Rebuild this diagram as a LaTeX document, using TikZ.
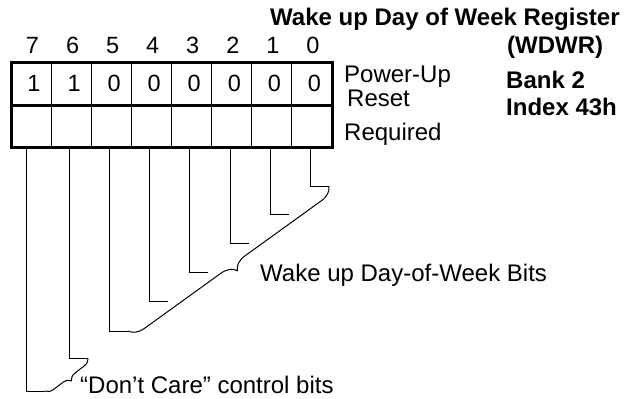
\documentclass[tikz,border=0pt]{standalone}
\usepackage{fontspec}
\setmainfont{Liberation Sans}
\usetikzlibrary{decorations.pathreplacing}
\begin{document}
\begin{tikzpicture}[x=1pt,y=-1pt,
  txt/.style={inner sep=0pt,anchor=base west,font=\fontsize{24}{28}\selectfont},
  btxt/.style={inner sep=0pt,anchor=base west,font=\fontsize{24}{28}\selectfont\bfseries},
  dig/.style={inner sep=0pt,anchor=base,font=\fontsize{23.5}{27}\selectfont},
  thickbox/.style={line width=3pt},
  thin/.style={line width=1.1pt},
  wire/.style={line width=1pt},
  bracestyle/.style={line width=1pt,decorate,decoration={brace,amplitude=#1}}]
\useasboundingbox (0,0) rectangle (630,399);
% title and labels
\node[btxt] (title) at (270,25) {Wake up Day of Week Register};
\node[btxt] (wdwr) at (507,53) {(WDWR)};
\node[btxt] (bank) at (506,88) {Bank 2};
\node[btxt] (index) at (506,115) {Index 43h};
\node[txt] (pu) at (344,82) {Power-Up};
\node[txt] (reset) at (347,106) {Reset};
\node[txt] (req) at (344,140) {Required};
% register cells
\foreach \i in {1,...,7}{
  \draw[thin] ({11.5+40.06*\i},62.5) -- ({11.5+40.06*\i},147);
}
\draw[thickbox] (11.5,105) -- (332,105);
\draw[thickbox] (11.5,62.5) rectangle (332,147);
% bit numbers and reset values
\foreach \b/\v [count=\k from 0] in {7/1,6/1,5/0,4/0,3/0,2/0,1/0,0/0}{
  \node[dig] (n\b) at ({11.5+40.06*(\k+0.5)+1},53) {\b};
  \node[dig] (v\b) at ({11.5+40.06*(\k+0.5)+2.5},91) {\v};
}
% wires
\foreach \b/\x/\y in {0/310/186,1/270/214,2/230/243,3/189/272,4/149/301,5/109/331,6/69/358,7/26/391}{
  \coordinate (top\b) at (\x,147);
  \coordinate (bend\b) at (\x,\y);
  \coordinate (end\b) at (\x+19,\y);
  \draw[wire] (top\b) -- (bend\b) -- (end\b);
}
\draw[bracestyle=15] (end0) -- (end5);
\draw[bracestyle=8] (end6) -- (end7);
\node[txt] (wk) at (260,281) {Wake up Day-of-Week Bits};
\node[txt] (dc) at (80,393) {“Don’t Care” control bits};
\end{tikzpicture}
\end{document}
